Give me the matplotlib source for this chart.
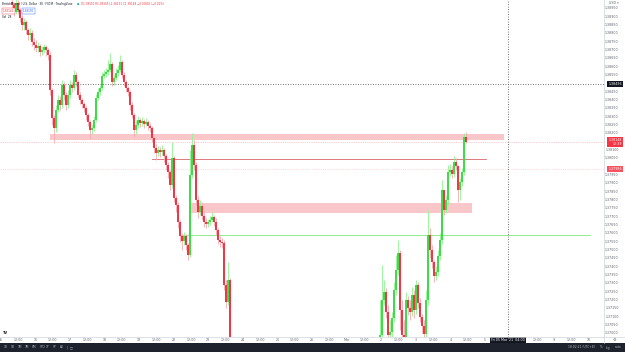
import matplotlib
matplotlib.use("Agg")
import matplotlib.pyplot as plt
import matplotlib.transforms as mtransforms
import numpy as np


## DATA ##

# first visible stretch (falling leg), one candle per step, open = previous close
first_open_1 = 1.38990
closes_1 = [1.38970, 1.38928, 1.38982, 1.38940, 1.38892, 1.38850, 1.38868, 1.38820, 1.38790, 1.38802,
            1.38748, 1.38730, 1.38712, 1.38724, 1.38688, 1.38700, 1.38718, 1.38700, 1.38670, 1.38460,
            1.38292, 1.38232, 1.38340, 1.38400, 1.38370, 1.38490, 1.38430, 1.38370, 1.38430, 1.38490,
            1.38472, 1.38550, 1.38508, 1.38430, 1.38400, 1.38376, 1.38352, 1.38310, 1.38268, 1.38220,
            1.38232, 1.38280, 1.38412, 1.38448, 1.38472, 1.38544, 1.38556, 1.38568, 1.38580, 1.38616,
            1.38508, 1.38532, 1.38562, 1.38580, 1.38628, 1.38550, 1.38508, 1.38472, 1.38448, 1.38370,
            1.38310, 1.38220, 1.38250, 1.38280, 1.38262, 1.38274, 1.38256, 1.38268, 1.38244, 1.38232,
            1.38172, 1.38112, 1.38082, 1.38100, 1.38088, 1.38100, 1.38064, 1.38010, 1.37968, 1.37890,
            1.38052, 1.37812, 1.37770, 1.37668, 1.37584, 1.37554, 1.37584, 1.37530, 1.37470, 1.37950,
            1.38130, 1.38010, 1.37800, 1.37728, 1.37764, 1.37704, 1.37668, 1.37656, 1.37668, 1.37680,
            1.37698, 1.37668, 1.37620, 1.37560, 1.37548, 1.37542, 1.37290, 1.37188, 1.37320, 1.36930]
highs_1 = [1.39030, 1.38988, 1.39030, 1.39000, 1.38952, 1.38910, 1.38892, 1.38880, 1.38832, 1.38832,
           1.38820, 1.38772, 1.38760, 1.38748, 1.38736, 1.38724, 1.38736, 1.38730, 1.38712, 1.38688,
           1.38472, 1.38310, 1.38370, 1.38430, 1.38424, 1.38520, 1.38508, 1.38448, 1.38460, 1.38520,
           1.38508, 1.38580, 1.38568, 1.38520, 1.38448, 1.38412, 1.38388, 1.38364, 1.38322, 1.38280,
           1.38256, 1.38304, 1.38436, 1.38472, 1.38490, 1.38568, 1.38580, 1.38592, 1.38640, 1.38682,
           1.38628, 1.38556, 1.38592, 1.38610, 1.38670, 1.38640, 1.38568, 1.38520, 1.38484, 1.38460,
           1.38388, 1.38322, 1.38280, 1.38304, 1.38292, 1.38298, 1.38286, 1.38292, 1.38280, 1.38262,
           1.38244, 1.38184, 1.38136, 1.38124, 1.38118, 1.38130, 1.38112, 1.38076, 1.38028, 1.37980,
           1.38148, 1.38064, 1.37830, 1.37788, 1.37680, 1.37602, 1.37608, 1.37596, 1.37542, 1.38100,
           1.38202, 1.38160, 1.38028, 1.37824, 1.37800, 1.37782, 1.37728, 1.37692, 1.37686, 1.37704,
           1.37728, 1.37710, 1.37692, 1.37632, 1.37584, 1.37572, 1.37560, 1.37320, 1.37428, 1.37332]
lows_1 = [1.38928, 1.38904, 1.38916, 1.38916, 1.38868, 1.38820, 1.38820, 1.38796, 1.38760, 1.38760,
          1.38724, 1.38700, 1.38688, 1.38688, 1.38664, 1.38670, 1.38682, 1.38664, 1.38640, 1.38430,
          1.38250, 1.38142, 1.38208, 1.38328, 1.38340, 1.38352, 1.38400, 1.38340, 1.38352, 1.38412,
          1.38448, 1.38460, 1.38484, 1.38412, 1.38376, 1.38352, 1.38328, 1.38280, 1.38244, 1.38166,
          1.38196, 1.38214, 1.38268, 1.38400, 1.38430, 1.38460, 1.38532, 1.38538, 1.38550, 1.38568,
          1.38484, 1.38490, 1.38520, 1.38544, 1.38568, 1.38532, 1.38484, 1.38448, 1.38424, 1.38340,
          1.38292, 1.38178, 1.38196, 1.38232, 1.38238, 1.38244, 1.38232, 1.38244, 1.38220, 1.38208,
          1.38148, 1.38082, 1.38040, 1.38064, 1.38058, 1.38070, 1.38028, 1.37980, 1.37932, 1.37860,
          1.37872, 1.37788, 1.37728, 1.37632, 1.37548, 1.37500, 1.37530, 1.37500, 1.37440, 1.37458,
          1.37932, 1.37980, 1.37770, 1.37692, 1.37710, 1.37680, 1.37638, 1.37632, 1.37638, 1.37650,
          1.37668, 1.37644, 1.37590, 1.37536, 1.37518, 1.37512, 1.37260, 1.37152, 1.37170, 1.36840]

# candles that trade below the visible price range, nothing of them is drawn
hidden_candles = 74

# second visible stretch (rally back up)
first_open_2 = 1.36960
closes_2 = [1.36990, 1.37200, 1.37248, 1.37128, 1.36990, 1.37008, 1.37092, 1.37260, 1.37380, 1.37482,
            1.37140, 1.36990, 1.36972, 1.37200, 1.37152, 1.37128, 1.37230, 1.37140, 1.37290, 1.37182,
            1.37098, 1.37044, 1.36996, 1.37200, 1.37590, 1.37500, 1.37428, 1.37344, 1.37368, 1.37464,
            1.37560, 1.37860, 1.37740, 1.37800, 1.37968, 1.37980, 1.37956, 1.38028, 1.38004, 1.37860,
            1.37908, 1.37968, 1.38178, 1.38148]
highs_2 = [1.37200, 1.37410, 1.37320, 1.37272, 1.37170, 1.37080, 1.37128, 1.37308, 1.37470, 1.37560,
           1.37500, 1.37200, 1.37080, 1.37248, 1.37224, 1.37200, 1.37278, 1.37260, 1.37320, 1.37308,
           1.37212, 1.37116, 1.37080, 1.37260, 1.37740, 1.37632, 1.37530, 1.37440, 1.37404, 1.37500,
           1.37602, 1.37920, 1.37800, 1.37830, 1.38010, 1.38016, 1.38004, 1.38064, 1.38052, 1.38010,
           1.37932, 1.37992, 1.38202, 1.38208]
lows_2 = [1.36840, 1.36930, 1.37170, 1.37092, 1.36900, 1.36900, 1.36960, 1.37068, 1.37230, 1.37350,
          1.37020, 1.36900, 1.36870, 1.36930, 1.37110, 1.37080, 1.37104, 1.37092, 1.37116, 1.37152,
          1.37068, 1.37002, 1.36930, 1.36960, 1.37170, 1.37452, 1.37392, 1.37308, 1.37320, 1.37344,
          1.37440, 1.37536, 1.37710, 1.37722, 1.37770, 1.37944, 1.37932, 1.37938, 1.37980, 1.37788,
          1.37800, 1.37884, 1.37950, 1.38142]

# drawings on the chart (time in candle index, price)
zone_1 = (19, 246, 1.38160, 1.38196)
zone_2 = (89.5, 230, 1.37722, 1.37782)
line_red = (70, 237, 1.38046)
line_green = (84.5, 289, 1.37590)
crosshair_index = 248
crosshair_price = 1.38496
last_price = 1.38148
second_price = 1.37986

day_labels = ["15", "16", "17", "18", "19", "22", "23", "24", "25", "26",
              "Mar", "2", "3", "4", "5", "8", "9", "10"]
price_ticks = np.arange(1.3700, 1.38980, 0.0005)


## BUILD SERIES ##

gap = [np.nan] * hidden_candles
closes = np.array(closes_1 + gap + closes_2)
highs = np.array(highs_1 + gap + highs_2)
lows = np.array(lows_1 + gap + lows_2)
opens = np.concatenate([[first_open_1], closes[:-1]])
opens[len(closes_1) + hidden_candles] = first_open_2
idx = np.arange(len(closes))
ok = ~np.isnan(closes)

UP_BODY, UP_WICK = "#3fdc4a", "#8ff58f"
DN_BODY, DN_WICK = "#f23645", "#f7a9b0"

## FIGURE ##

W, H = 625, 352
fig = plt.figure(figsize=(W/100, H/100), dpi=100)
fig.patch.set_facecolor("white")

CHART_W, CHART_H, BOTTOM = 604, 337, 15
ax = fig.add_axes([0, BOTTOM/H, CHART_W/W, CHART_H/H])
ax.set_facecolor("white")

PX_PER_CANDLE = 2.0
X0_PX = 12
ax.set_xlim(-X0_PX/PX_PER_CANDLE, (CHART_W - X0_PX)/PX_PER_CANDLE)
ax.set_ylim(1.39 - 0.00006*CHART_H, 1.39)

# zones and lines first, candles above
for (i0, i1, p0, p1) in [zone_1, zone_2]:
    ax.fill_between([i0, i1], p0, p1, color="#f9c6ca", lw=0, zorder=1)
ax.plot(line_red[:2], [line_red[2]]*2, color="#d9646e", lw=0.6, zorder=2)
ax.plot(line_green[:2], [line_green[2]]*2, color="#7ee87e", lw=0.6, zorder=2)

ax.axhline(last_price, color="#f5a3aa", lw=0.4, ls=(0, (2, 2)), zorder=1)
ax.axhline(second_price, color="#f8c0c5", lw=0.4, ls=(0, (2, 2)), zorder=1)

up = ok & (closes >= opens)
dn = ok & (closes < opens)
for mask, body, wick in [(up, UP_BODY, UP_WICK), (dn, DN_BODY, DN_WICK)]:
    ax.vlines(idx[mask], lows[mask], highs[mask], color=wick, lw=0.6, zorder=3)
    h = closes[mask] - opens[mask]
    h = np.where(np.abs(h) < 0.00004, 0.00004, h)
    ax.bar(idx[mask], h, bottom=opens[mask], width=0.7, color=body, lw=0, zorder=4)

# crosshair
ax.axhline(crosshair_price, color="#444444", lw=0.6, ls=(0, (1, 2)), zorder=5)
ax.axvline(crosshair_index, color="#444444", lw=0.6, ls=(0, (1, 2)), zorder=5)

ax.set_xticks([])
ax.set_yticks([])
for s in ax.spines.values():
    s.set_visible(False)

## PRICE AXIS ##
tr_y = mtransforms.blended_transform_factory(fig.transFigure, ax.transData)
label_prices = [crosshair_price, last_price, second_price]
for p in price_ticks:
    if min(abs(p - q) for q in label_prices) < 0.0003:
        continue
    ax.text(0.99, p, f"{p:.5f}", transform=tr_y, fontsize=2.3, color="#5d606b",
            ha="right", va="center", clip_on=False)

def price_label(p, text, face, tcolor="white"):
    ax.text(0.995, p, text, transform=tr_y, fontsize=2.3, color=tcolor, ha="right",
            va="center", clip_on=False, zorder=10, linespacing=1.1,
            bbox=dict(boxstyle="square,pad=0.35", fc=face, ec="none"))

price_label(crosshair_price, f"{crosshair_price:.5f}", "#131722")
price_label(last_price, f"{last_price:.5f}\n12:39", "#f23645")
price_label(second_price, f"{second_price:.5f}", "#f7525f")
fig.text(0.99, 1 - 2.5/H, "USD ▾", fontsize=2.3, color="#5d606b", ha="right", va="center")

fig.add_artist(plt.Line2D([CHART_W/W]*2, [9/H, 1], color="#d1d4dc", lw=0.5))

## TIME AXIS ##
fig.add_artist(plt.Line2D([0, 1], [BOTTOM/H]*2, color="#d1d4dc", lw=0.5))
tr_x = mtransforms.blended_transform_factory(ax.transData, fig.transFigure)
CANDLES_PER_DAY = 17.3
first_day = (0.7 - X0_PX)/PX_PER_CANDLE
for k, lab in enumerate(day_labels):
    xd = first_day + k*CANDLES_PER_DAY
    for xx, t in [(xd, lab), (xd + CANDLES_PER_DAY/2, "12:00")]:
        if xx > (CHART_W - 8 - X0_PX)/PX_PER_CANDLE or abs(xx - crosshair_index) < 8:
            continue
        ax.text(xx, 12/H, t, transform=tr_x, fontsize=2.3, color="#5d606b",
                ha="center", va="center", clip_on=False)
ax.text(crosshair_index, 12/H, "Fri 05 Mar '21  04:00", transform=tr_x, fontsize=2.3,
        color="white", ha="center", va="center", clip_on=False, zorder=10,
        bbox=dict(boxstyle="square,pad=0.4", fc="#131722", ec="none"))
fig.text(614/W, 12/H, "⚙", fontsize=3, color="#5d606b", ha="center", va="center")

## BOTTOM TOOLBAR ##
fig.add_artist(plt.Rectangle((0, 0), 1, 9/H, transform=fig.transFigure, color="#1e222d", lw=0))
for k, t in enumerate(["1D", "5D", "1M", "3M", "6M", "YTD", "1Y", "5Y", "All"]):
    fig.text((4 + k*7)/W, 4.5/H, t, fontsize=2.2, color="#b2b5be", ha="left", va="center")
fig.text(67/W, 4.5/H, "|  □", fontsize=2.2, color="#b2b5be", ha="left", va="center")
fig.text(595/W, 4.5/H, "18:02:21 (UTC+8)", fontsize=2.2, color="#b2b5be", ha="right", va="center")
fig.text(601/W, 4.5/H, "%", fontsize=2.2, color="#b2b5be", ha="center", va="center")
fig.text(608/W, 4.5/H, "log", fontsize=2.2, color="#b2b5be", ha="center", va="center")
fig.text(618/W, 4.5/H, "auto", fontsize=2.2, color="#b2b5be", ha="center", va="center")

## LEGEND (top left) ##
fig.text(2/W, 1 - 4/H, "British Pound / U.S. Dollar · 30 · FXCM · TradingView", fontsize=2.0,
         color="#131722", ha="left", va="center")
fig.text(77/W, 1 - 4/H, "●", fontsize=2.0, color="#26a69a", ha="left", va="center")
fig.text(81/W, 1 - 4/H, "O1.38150 H1.38165 L1.38131 C1.38148 −0.00002 (−0.01%)", fontsize=2.0,
         color="#f23645", ha="left", va="center")
fig.text(3/W, 1 - 11/H, "1.38142", fontsize=2.0, color="#f23645", ha="left", va="center",
         bbox=dict(boxstyle="square,pad=0.3", fc="white", ec="#f23645", lw=0.3))
fig.text(17/W, 1 - 11/H, "0.8", fontsize=2.0, color="#131722", ha="left", va="center")
fig.text(23/W, 1 - 11/H, "1.38150", fontsize=2.0, color="#2962ff", ha="left", va="center",
         bbox=dict(boxstyle="square,pad=0.3", fc="white", ec="#2962ff", lw=0.3))
fig.text(2/W, 1 - 16.5/H, "Vol  28", fontsize=2.0, color="#131722", ha="left", va="center")
fig.text(3/W, 1 - 333/H, "TV", fontsize=2.5, color="#131722", ha="left", va="center", weight="bold")

plt.savefig("out.png", dpi=100)
